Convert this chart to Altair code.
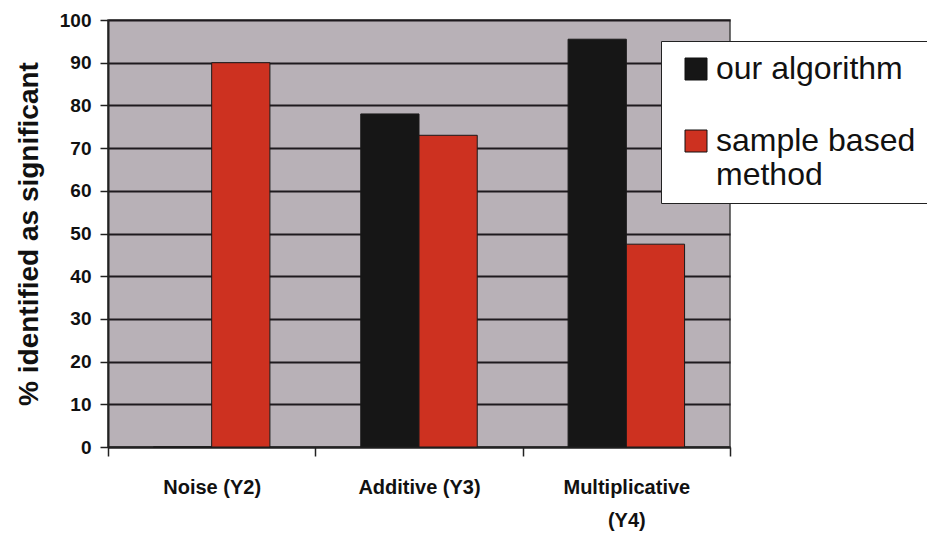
import altair as alt
import pandas as pd

categories = ["Noise (Y2)", "Additive (Y3)", "Multiplicative (Y4)"]
series = ["our algorithm", "sample based method"]
our_algorithm = [0, 78, 95.5]
sample_based = [90, 73, 47.5]
y_ticks = [0, 10, 20, 30, 40, 50, 60, 70, 80, 90, 100]
colors = ["#161616", "#cd3120"]

rows = []
for c, a, b in zip(categories, our_algorithm, sample_based):
    rows.append({"category": c, "series": series[0], "value": a})
    rows.append({"category": c, "series": series[1], "value": b})
df = pd.DataFrame(rows)

FONT = "Liberation Sans"

bars = alt.Chart(df).mark_bar(stroke="#1a1a1a", strokeWidth=1).encode(
    x=alt.X(
        "category:N",
        sort=categories,
        scale=alt.Scale(paddingInner=0, paddingOuter=0),
        axis=alt.Axis(
            title=None,
            labelAngle=0,
            labelFont=FONT,
            labelFontSize=20,
            labelFontWeight="bold",
            labelColor="#111111",
            labelBaseline="top",
            labelPadding=21,
            labelLineHeight=33,
            labelExpr="datum.label == 'Multiplicative (Y4)' ? ['Multiplicative', '(Y4)'] : datum.label",
            tickBand="extent",
            tickSize=9,
            tickColor="#222222",
            tickWidth=1.5,
            domainColor="#222222",
            domainWidth=2,
            grid=False,
        ),
    ),
    xOffset=alt.XOffset(
        "series:N", sort=series, scale=alt.Scale(paddingInner=0, paddingOuter=0.78)
    ),
    y=alt.Y(
        "value:Q",
        scale=alt.Scale(domain=[0, 100], nice=False),
        axis=alt.Axis(
            values=y_ticks,
            title="% identified as significant",
            titleFont=FONT,
            titleFontSize=28,
            titleFontWeight="bold",
            titleColor="#111111",
            titlePadding=16,
            labelFont=FONT,
            labelFontSize=19,
            labelFontWeight="bold",
            labelColor="#111111",
            labelPadding=9,
            tickSize=8,
            tickColor="#222222",
            tickWidth=1.5,
            domainColor="#222222",
            domainWidth=2,
            grid=True,
            gridColor="#1e1a1e",
            gridWidth=2,
        ),
    ),
    color=alt.Color(
        "series:N",
        sort=series,
        scale=alt.Scale(domain=series, range=colors),
        legend=alt.Legend(
            title=None,
            orient="none",
            legendX=553,
            legendY=21,
            fillColor="white",
            strokeColor="#222222",
            padding=12,
            symbolOffset=7,
            symbolType="square",
            symbolSize=484,
            symbolStrokeColor="#111111",
            symbolStrokeWidth=1,
            labelFont=FONT,
            labelFontSize=32,
            labelColor="#111111",
            labelOffset=4,
            labelLimit=400,
            labelBaseline="middle",
            rowPadding=40,
            labelExpr="datum.label == 'sample based method' ? ['sample based', 'method'] : datum.label",
        ),
    ),
)

chart = bars.properties(
    width=622,
    height=427,
    padding={"left": 108, "top": 20, "right": 197, "bottom": 89},
    autosize=alt.AutoSizeParams(type="none"),
).configure_view(
    fill="#b8b1b7", stroke="#444444", strokeWidth=1.5
)

chart.save("out.html", embed_options={"renderer": "svg", "actions": False})
